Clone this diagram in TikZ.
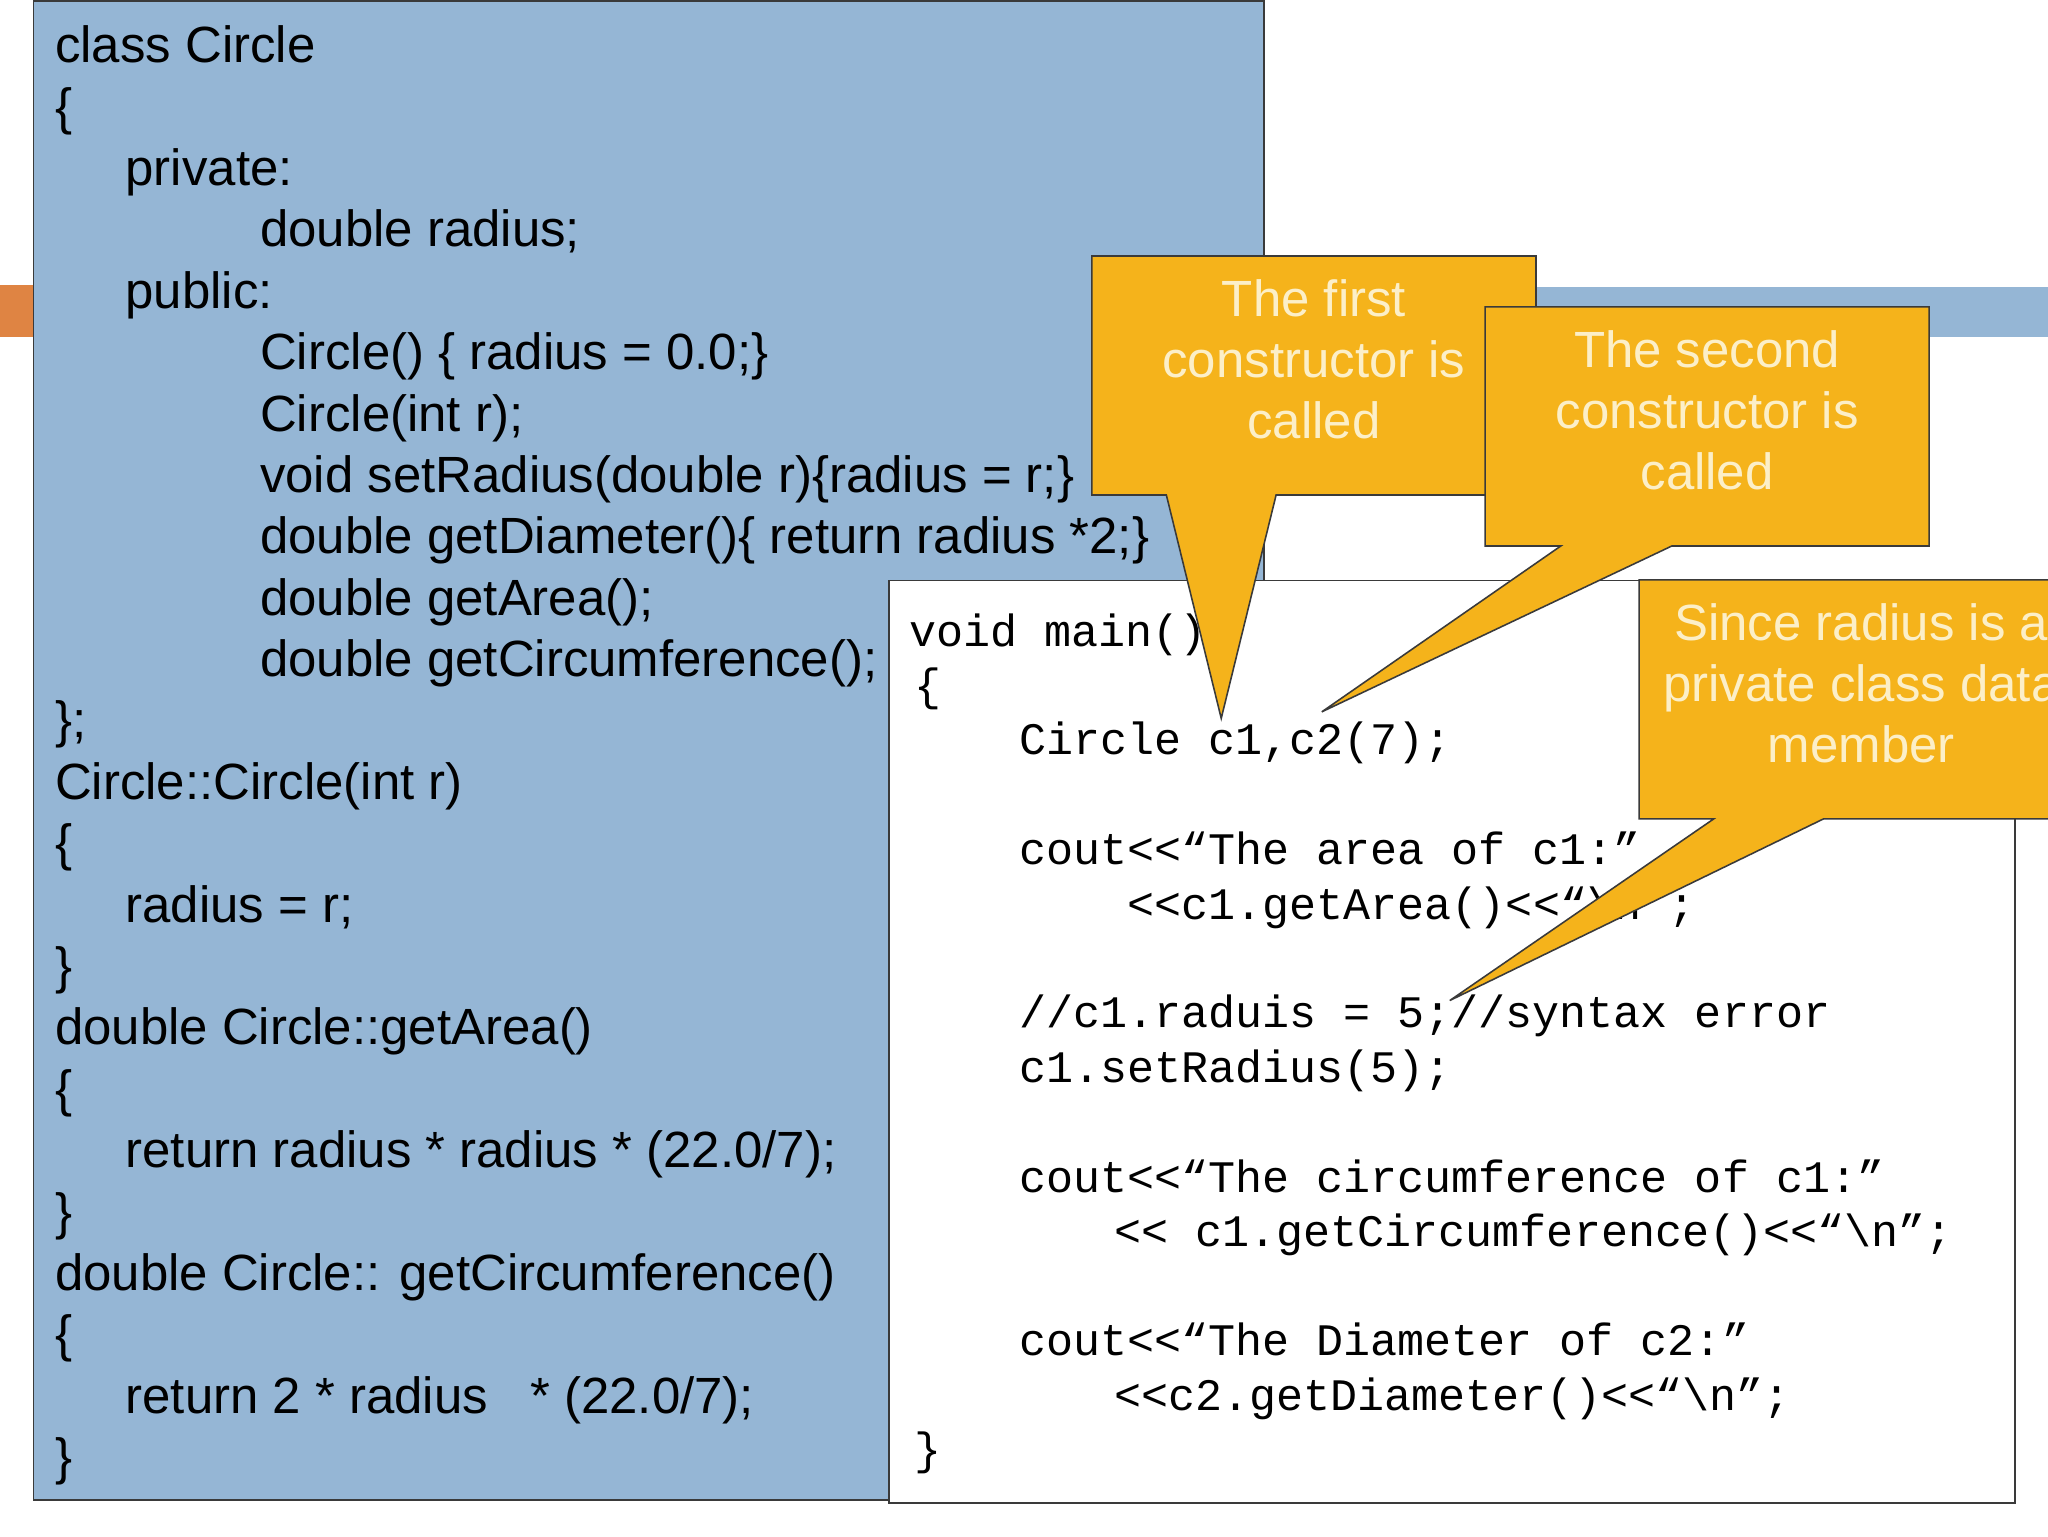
\documentclass[tikz,border=0pt]{standalone}
\usepackage{fontspec}
\setmainfont{Liberation Sans}
\setmonofont{Liberation Mono}
\definecolor{boxblue}{HTML}{95B6D5}
\definecolor{calloutfill}{HTML}{F5B31B}
\definecolor{callouttext}{HTML}{FCEFC8}
\definecolor{barorange}{HTML}{DF8443}
\definecolor{edge}{HTML}{3A3A3A}
\tikzset{
  code/.style={anchor=base west,inner sep=0pt,font=\fontsize{39}{47}\selectfont},
  mono/.style={anchor=base west,inner sep=0pt,font=\ttfamily\fontsize{34.5}{41}\selectfont},
  ctext/.style={anchor=base,inner sep=0pt,text=callouttext,align=center,font=\fontsize{39}{47}\selectfont},
  callout/.style={fill=calloutfill,draw=edge,line width=1.2pt,line join=miter},
}
\newcommand{\CL}[3]{\node[code] at (#1,#2+13) {#3};}
\newcommand{\ML}[3]{\node[mono] at (#1,#2) {#3};}
\begin{document}
\begin{tikzpicture}[x=1pt,y=-1pt]
\useasboundingbox (0,0) rectangle (1568,1176);
\clip (0,0) rectangle (1568,1176);
% bars
\fill[barorange] (0,218) rectangle (25,258);
\fill[boxblue] (1175,220) rectangle (1568,258);
% blue box
\node[draw=edge,fill=boxblue,line width=1.2pt,minimum width=942pt,minimum height=1148pt,anchor=north west,inner sep=0pt] (classbox) at (25,0) {};
\CL{42}{35}{class Circle}
\CL{42}{82}{\{}
\CL{96}{129}{private:}
\CL{199}{176}{double radius;}
\CL{96}{223}{public:}
\CL{199}{270}{Circle() \{ radius = 0.0;\}}
\CL{199}{317}{Circle(int r);}
\CL{199}{364}{void setRadius(double r)\{radius = r;\}}
\CL{199}{411}{double getDiameter()\{ return radius *2;\}}
\CL{199}{458}{double getArea();}
\CL{199}{505}{double getCircumference();}
\CL{42}{552}{\};}
\CL{42}{599}{Circle::Circle(int r)}
\CL{42}{646}{\{}
\CL{96}{693}{radius = r;}
\CL{42}{740}{\}}
\CL{42}{787}{double Circle::getArea()}
\CL{42}{834}{\{}
\CL{96}{881}{return radius * radius * (22.0/7);}
\CL{42}{928}{\}}
\CL{42}{975}{double Circle:: getCircumference()}
\CL{42}{1022}{\{}
\CL{96}{1069}{return 2 * radius~~ * (22.0/7);}
\CL{42}{1116}{\}}
% white box
\node[draw=edge,fill=white,line width=1.2pt,minimum width=862pt,minimum height=706pt,anchor=north west,inner sep=0pt] (mainbox) at (680,444) {};
\ML{696}{495}{void main()}
\ML{700}{536}{\{}
\ML{780}{578}{Circle c1,c2(7);}
\ML{780}{662}{cout<<“The area of c1:”}
\ML{863}{704}{<<c1.getArea()<<“\textbackslash n”;}
\ML{780}{787}{//c1.raduis = 5;//syntax error}
\ML{780}{829}{c1.setRadius(5);}
\ML{780}{913}{cout<<“The circumference of c1:”}
\ML{853}{954}{<< c1.getCircumference()<<“\textbackslash n”;}
\ML{780}{1038}{cout<<“The Diameter of c2:”}
\ML{853}{1080}{<<c2.getDiameter()<<“\textbackslash n”;}
\ML{700}{1121}{\}}
% callout 1
\draw[callout] (836,196) -- (1176,196) -- (1176,379) -- (977,379) -- (935,550) -- (893,379) -- (836,379) -- cycle;
\node[ctext] (c1a) at (1006,242) {The first};
\node[ctext] (c1b) at (1006,289) {constructor is};
\node[ctext] (c1c) at (1006,336) {called};
% callout 2
\draw[callout] (1137,235) -- (1477,235) -- (1477,418) -- (1280,418) -- (1012,545) -- (1195,418) -- (1137,418) -- cycle;
\node[ctext] (c2a) at (1307,281) {The second};
\node[ctext] (c2b) at (1307,328) {constructor is};
\node[ctext] (c2c) at (1307,375) {called};
% callout 3
\draw[callout] (1255,444) -- (1600,444) -- (1600,627) -- (1396,627) -- (1110,766) -- (1312,627) -- (1255,627) -- cycle;
\node[ctext] (c3a) at (1425,490) {Since radius is a};
\node[ctext] (c3b) at (1425,537) {private class data};
\node[ctext] (c3c) at (1425,584) {member};
\end{tikzpicture}
\end{document}
